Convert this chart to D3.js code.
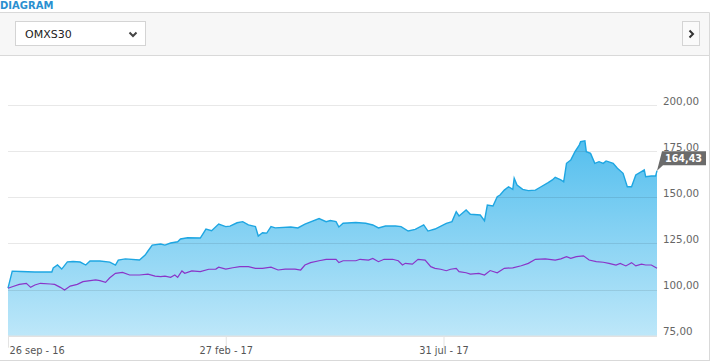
<!DOCTYPE html>
<html>
<head>
<meta charset="utf-8">
<script src="https://cdn.jsdelivr.net/npm/d3@7"></script>
<style>
  body { margin: 0; background: #fff; }
  svg { display: block; font-family: "DejaVu Sans", Verdana, sans-serif; }
</style>
</head>
<body>
<div id="chart"></div>
<script>
// fund (blue area)
const fundDates = ["2016-09-26","2016-09-29","2016-10-05","2016-10-15","2016-10-27","2016-10-28","2016-10-31","2016-11-03","2016-11-07","2016-11-11",
  "2016-11-16","2016-11-20","2016-11-23","2016-11-30","2016-12-07","2016-12-11","2016-12-13","2016-12-18","2016-12-28","2017-01-01",
  "2017-01-03","2017-01-06","2017-01-12","2017-01-15","2017-01-19","2017-01-24","2017-01-26","2017-01-31","2017-02-09","2017-02-13",
  "2017-02-17","2017-02-22","2017-02-27","2017-03-02","2017-03-07","2017-03-11","2017-03-15","2017-03-20","2017-03-22","2017-03-25",
  "2017-03-28","2017-03-31","2017-04-03","2017-04-14","2017-04-19","2017-04-24","2017-05-04","2017-05-09","2017-05-12","2017-05-16",
  "2017-05-18","2017-05-21","2017-05-30","2017-06-06","2017-06-11","2017-06-15","2017-06-20","2017-06-27","2017-07-01","2017-07-06",
  "2017-07-11","2017-07-17","2017-07-20","2017-07-25","2017-08-02","2017-08-06","2017-08-09","2017-08-11","2017-08-16","2017-08-19",
  "2017-08-26","2017-08-29","2017-08-31","2017-09-04","2017-09-07","2017-09-09","2017-09-12","2017-09-15","2017-09-18","2017-09-19",
  "2017-09-21","2017-09-25","2017-09-29","2017-10-04","2017-10-08","2017-10-13","2017-10-16","2017-10-18","2017-10-22","2017-10-24",
  "2017-10-26","2017-10-29","2017-11-01","2017-11-04","2017-11-05","2017-11-08","2017-11-09","2017-11-12","2017-11-15","2017-11-18",
  "2017-11-21","2017-11-23","2017-11-28","2017-12-01","2017-12-05","2017-12-08","2017-12-11","2017-12-14","2017-12-18","2017-12-20",
  "2017-12-21","2017-12-25","2017-12-28","2017-12-29"];
const fundValues = [100.8,110.0,109.8,109.5,109.5,111.7,113.3,111.1,115.0,115.2,
  114.9,113.3,115.5,115.5,114.9,113.3,116.0,116.6,116.0,118.7,
  120.9,124.1,124.7,124.1,125.2,125.9,127.4,128.1,127.9,132.8,
  131.9,135.5,134.1,134.4,136.2,136.8,135.0,134.1,129.0,130.8,
  130.6,134.1,133.4,133.9,133.4,135.5,138.5,136.8,137.4,136.8,
  133.9,135.9,136.3,135.9,135.0,133.4,134.4,134.4,134.1,131.7,
  132.6,135.0,131.7,132.8,135.9,136.8,142.2,139.9,143.1,140.8,
  140.4,137.3,145.8,145.3,150.3,151.2,153.9,155.7,154.3,160.3,
  156.6,154.3,153.6,153.9,155.7,157.9,159.4,160.8,159.4,158.4,
  168.4,170.2,174.7,178.3,180.1,180.6,174.7,173.8,168.4,169.3,
  168.4,169.7,168.4,165.7,163.0,155.7,155.7,162.1,163.9,164.8,
  161.1,161.5,161.5,164.43];

// OMXS30 (purple line)
const omxDates = ["2016-09-26","2016-09-29","2016-10-04","2016-10-09","2016-10-12","2016-10-15","2016-10-19","2016-10-26","2016-10-29","2016-11-02",
  "2016-11-05","2016-11-09","2016-11-14","2016-11-18","2016-11-27","2016-11-30","2016-12-04","2016-12-07","2016-12-11","2016-12-16",
  "2016-12-21","2016-12-28","2017-01-03","2017-01-08","2017-01-12","2017-01-15","2017-01-19","2017-01-22","2017-01-24","2017-01-27",
  "2017-01-29","2017-02-03","2017-02-09","2017-02-15","2017-02-20","2017-02-22","2017-02-27","2017-03-04","2017-03-09","2017-03-15",
  "2017-03-20","2017-03-25","2017-03-31","2017-04-05","2017-04-10","2017-04-17","2017-04-21","2017-04-24","2017-04-28","2017-05-04",
  "2017-05-09","2017-05-16","2017-05-18","2017-05-21","2017-05-30","2017-06-02","2017-06-08","2017-06-11","2017-06-15","2017-06-19",
  "2017-06-25","2017-06-29","2017-07-02","2017-07-04","2017-07-09","2017-07-13","2017-07-18","2017-07-22","2017-07-25","2017-07-29",
  "2017-08-02","2017-08-05","2017-08-09","2017-08-11","2017-08-16","2017-08-19","2017-08-25","2017-08-29","2017-09-02","2017-09-07",
  "2017-09-12","2017-09-18","2017-09-24","2017-09-29","2017-10-04","2017-10-11","2017-10-18","2017-10-22","2017-10-26","2017-10-29",
  "2017-11-02","2017-11-07","2017-11-11","2017-11-16","2017-11-21","2017-11-25","2017-11-30","2017-12-03","2017-12-07","2017-12-11",
  "2017-12-14","2017-12-18","2017-12-21","2017-12-25","2017-12-29"];
const omxValues = [100.7,101.5,102.8,103.4,101.2,102.5,103.4,103.0,102.8,101.2,
  99.8,101.9,102.8,104.3,105.2,104.8,103.9,106.4,108.8,109.3,
  107.9,107.9,108.4,107.3,107.0,107.3,106.6,107.9,106.6,110.1,
  108.8,110.1,109.7,111.0,111.1,112.1,111.1,111.8,112.4,112.4,
  111.5,111.5,112.1,110.6,111.1,111.1,110.6,113.3,114.6,115.6,
  116.4,116.4,114.6,115.6,115.6,116.4,116.0,116.9,115.1,116.4,
  116.4,115.6,113.3,114.2,113.8,116.4,116.0,112.4,111.5,111.0,
  110.2,111.0,111.5,109.7,109.1,108.4,108.8,107.9,110.3,109.1,
  111.5,111.8,112.9,114.2,116.4,116.6,116.0,116.6,117.8,116.9,
  117.8,118.3,116.0,115.1,114.8,114.2,113.3,114.2,112.8,114.6,
  112.8,113.8,113.3,113.3,111.5];

const yTicks = [75, 100, 125, 150, 175, 200];
const xTicks = ["2016-09-26", "2017-02-27", "2017-07-31"];
const indexName = "OMXS30";

const width = 710, height = 362;
const margin = {top: 105, right: 53, bottom: 26.3, left: 8};

const parse = d3.timeParse("%Y-%m-%d");
const fund = fundDates.map((d, i) => ({date: parse(d), value: fundValues[i]}));
const omx = omxDates.map((d, i) => ({date: parse(d), value: omxValues[i]}));

const sv = d3.timeFormatLocale({
  dateTime: "%A %e %B %Y %X", date: "%Y-%m-%d", time: "%H:%M:%S", periods: ["fm", "em"],
  days: ["söndag","måndag","tisdag","onsdag","torsdag","fredag","lördag"],
  shortDays: ["sön","mån","tis","ons","tor","fre","lör"],
  months: ["januari","februari","mars","april","maj","juni","juli","augusti","september","oktober","november","december"],
  shortMonths: ["jan","feb","mar","apr","maj","jun","jul","aug","sep","okt","nov","dec"]
});
const numFmt = d3.formatLocale({decimal: ",", thousands: " ", grouping: [3], currency: ["", " kr"]}).format(".2f");
const dateFmt = sv.format("%d %b - %y");

const svg = d3.select("#chart").append("svg")
  .attr("width", width)
  .attr("height", height);

// header + toolbar
svg.append("text")
  .attr("x", 0).attr("y", 9)
  .attr("font-size", 10).attr("font-weight", "bold")
  .attr("fill", "#2a8fd0")
  .text("DIAGRAM");

svg.append("rect")
  .attr("x", 0).attr("y", 12.5).attr("width", 709).attr("height", 42.5)
  .attr("fill", "#f7f7f7").attr("stroke", "none");
svg.append("line").attr("x1", 0).attr("x2", 709.5).attr("y1", 12.5).attr("y2", 12.5).attr("stroke", "#d9d9d9");
svg.append("line").attr("x1", 0).attr("x2", 709.5).attr("y1", 55.5).attr("y2", 55.5).attr("stroke", "#d9d9d9");
svg.append("line").attr("x1", 709.5).attr("x2", 709.5).attr("y1", 12.5).attr("y2", 361).attr("stroke", "#d9d9d9");
svg.append("line").attr("x1", 0).attr("x2", 709.5).attr("y1", 360.5).attr("y2", 360.5).attr("stroke", "#d9d9d9");

svg.append("rect")
  .attr("x", 15.5).attr("y", 21.5).attr("width", 130).attr("height", 24)
  .attr("fill", "#fff").attr("stroke", "#d4d4d4");
svg.append("text")
  .attr("x", 25).attr("y", 37.5)
  .attr("font-size", 11).attr("fill", "#222")
  .text(indexName);
svg.append("path")
  .attr("d", "M129.5,32.5L133,36L136.5,32.5")
  .attr("fill", "none").attr("stroke", "#444").attr("stroke-width", 2);

svg.append("rect")
  .attr("x", 682.5).attr("y", 21.5).attr("width", 17).attr("height", 24)
  .attr("fill", "#fafafa").attr("stroke", "#d4d4d4");
svg.append("path")
  .attr("d", "M689.5,30.5L693,34L689.5,37.5")
  .attr("fill", "none").attr("stroke", "#333").attr("stroke-width", 2);

// scales
const x = d3.scaleTime()
  .domain(d3.extent(fund, d => d.date))
  .range([margin.left, width - margin.right]);

const y = d3.scaleLinear()
  .domain([75, 200])
  .range([height - margin.bottom, margin.top]);

const defs = svg.append("defs");
const grad = defs.append("linearGradient")
  .attr("id", "fill").attr("gradientUnits", "userSpaceOnUse")
  .attr("x1", 0).attr("x2", 0)
  .attr("y1", y(180)).attr("y2", y(75));
grad.append("stop").attr("offset", 0).attr("stop-color", "#55bfee");
grad.append("stop").attr("offset", 1).attr("stop-color", "#bde7f9");

// area + lines
svg.append("path")
  .datum(fund)
  .attr("fill", "url(#fill)")
  .attr("d", d3.area().x(d => x(d.date)).y0(y(75)).y1(d => y(d.value)));

// grid on top, faint
svg.append("g")
  .selectAll("line")
  .data(yTicks.slice(1))
  .join("line")
  .attr("x1", margin.left).attr("x2", width - margin.right)
  .attr("y1", d => Math.round(y(d)) + 0.5).attr("y2", d => Math.round(y(d)) + 0.5)
  .attr("stroke", "rgba(0,0,0,0.09)");

svg.append("path")
  .datum(fund)
  .attr("fill", "none")
  .attr("stroke", "#1ea6e2")
  .attr("stroke-width", 1.4)
  .attr("d", d3.line().x(d => x(d.date)).y(d => y(d.value)));

svg.append("path")
  .datum(omx)
  .attr("fill", "none")
  .attr("stroke", "#8a35c8")
  .attr("stroke-width", 1.2)
  .attr("d", d3.line().x(d => x(d.date)).y(d => y(d.value)));

// y labels on the right
svg.append("g")
  .selectAll("text")
  .data(yTicks)
  .join("text")
  .attr("x", width - margin.right + 6)
  .attr("y", d => y(d) - 0.5)
  .attr("font-size", 10.3)
  .attr("fill", "#666")
  .text(d => numFmt(d));

// x axis
const xAxis = svg.append("g")
  .attr("transform", `translate(0,${height - margin.bottom})`)
  .call(d3.axisBottom(x).tickValues(xTicks.map(parse)).tickSize(12).tickFormat(dateFmt));
xAxis.select(".domain").attr("stroke", "#d6d6d6").attr("d", `M${margin.left},0.5H${width - margin.right}`);
xAxis.selectAll(".tick line").attr("stroke", "#e3e3e3");
xAxis.selectAll(".tick text")
  .attr("y", 18.5).attr("dy", 0)
  .attr("font-family", "DejaVu Sans, Verdana, sans-serif")
  .attr("font-size", 9.8).attr("fill", "#555")
  .attr("text-anchor", (d, i) => i === 0 ? "start" : "middle")
  .attr("x", (d, i) => i === 0 ? 1 : 0);

// last value flag
const last = fund[fund.length - 1];
const lx = x(last.date), ly = y(last.value);
svg.append("path")
  .attr("d", `M${lx},${ly}L${lx + 5},${ly - 19.5}H${width - 4}V${ly - 5.5}H${lx + 6}Z`)
  .attr("fill", "#6b6b6b");
svg.append("text")
  .attr("x", lx + 8).attr("y", ly - 8.5)
  .attr("font-size", 9.6).attr("font-weight", "bold")
  .attr("fill", "#fff")
  .text(numFmt(last.value));
</script>
</body>
</html>
